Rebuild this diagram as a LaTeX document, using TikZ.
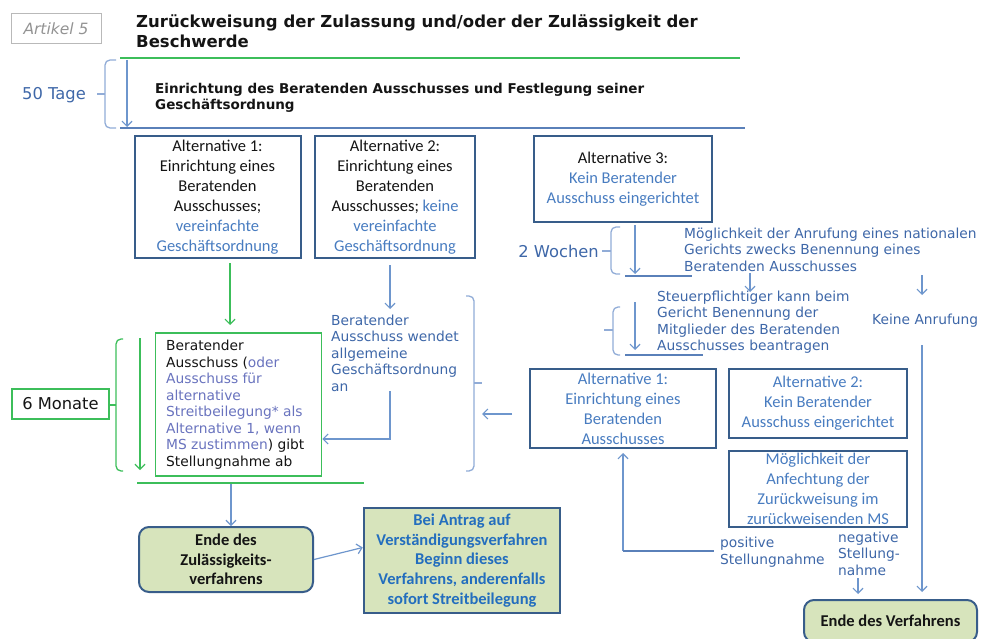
\documentclass[tikz,border=0pt]{standalone}
\usepackage{fontspec}
\setmainfont{Carlito}
\newfontfamily\dv{DejaVu Sans}
\usetikzlibrary{arrows.meta}
\definecolor{dkblue}{RGB}{56,93,138}
\definecolor{lblue}{RGB}{62,103,168}
\definecolor{boxblue}{RGB}{72,124,192}
\definecolor{pblue}{RGB}{105,115,190}
\definecolor{ablue}{RGB}{110,150,205}
\definecolor{brblue}{RGB}{145,172,215}
\definecolor{lineblue}{RGB}{90,128,185}
\definecolor{grn}{RGB}{60,190,90}
\definecolor{lgreen}{RGB}{215,228,188}
\definecolor{bblue}{RGB}{35,110,190}
\definecolor{blk}{RGB}{20,20,20}
\tikzset{
  altbox/.style={draw=dkblue, line width=2pt, align=center, inner sep=0pt, text=blk,
    font=\fontsize{16.5}{20}\selectfont},
  lbl/.style={align=left, inner sep=0pt, text=lblue, font=\dv\fontsize{13.8}{16.5}\selectfont},
  arr/.style={draw=ablue, line width=1.2pt, -{Straight Barb[length=5pt,width=10pt]}},
  garr/.style={draw=grn, line width=1.2pt, -{Straight Barb[length=5pt,width=10pt]}},
  bbrk/.style={draw=brblue, line width=1.3pt, rounded corners=5pt},
  gbrk/.style={draw=grn, line width=1.3pt, rounded corners=5pt},
  endbox/.style={rounded corners=10pt, draw=dkblue, line width=2pt, fill=lgreen, align=center,
    inner sep=0pt, text=blk, font=\bfseries\fontsize{16.5}{19.5}\selectfont},
}
% bracket: style, bar x, end x, tip x, top y, bottom y, tip y
\newcommand\mybracket[7]{%
  \draw[#1] (#3,#5) -- (#2,#5) -- (#2,#6) -- (#3,#6);
  \draw[#1] (#2,#7) -- (#4,#7);}
\begin{document}
\begin{tikzpicture}[x=1pt,y=-1pt]
\useasboundingbox (0,0) rectangle (982,639);
\clip (0,0) rectangle (982,639);
% header
\node[draw=gray!55, line width=1pt, minimum width=90pt, minimum height=30pt, inner sep=0pt,
  text=gray!85, font=\dv\itshape\fontsize{15.5}{18}\selectfont] (art) at (56,29) {Artikel 5};
\node[anchor=west, inner sep=0pt, align=left, text=blk,
  font=\dv\bfseries\fontsize{16.5}{19.5}\selectfont] (title) at (136,31)
  {Zurückweisung der Zulassung und/oder der Zulässigkeit der\\Beschwerde};
\coordinate (gl1) at (120,58); \coordinate (gl2) at (740,58);
\draw[grn, line width=1.2pt] (gl1) -- (gl2);
\mybracket{bbrk}{105}{116}{97}{60}{128}{94}
\node[inner sep=0pt, text=lblue, font=\dv\fontsize{16.3}{19}\selectfont] (t50) at (54,95) {50 Tage};
\coordinate (d50a) at (127,60); \coordinate (d50b) at (127,127);
\draw[arr] (d50a) -- (d50b);
\node[anchor=west, inner sep=0pt, align=left, text=blk,
  font=\dv\bfseries\fontsize{13.5}{16.5}\selectfont] (head2) at (155,98)
  {Einrichtung des Beratenden Ausschusses und Festlegung seiner\\Geschäftsordnung};
\coordinate (bl1) at (120,128); \coordinate (bl2) at (745,128);
\draw[lineblue, line width=1.2pt] (bl1) -- (bl2);
% alternatives
\node[altbox, minimum width=166pt, minimum height=122pt] (a1) at (217.5,197)
  {Alternative 1:\\Einrichtung eines\\Beratenden\\Ausschusses;\\\textcolor{boxblue}{vereinfachte}\\\textcolor{boxblue}{Geschäftsordnung}};
\node[altbox, minimum width=160pt, minimum height=122pt] (a2) at (395,197)
  {Alternative 2:\\Einrichtung eines\\Beratenden\\Ausschusses; \textcolor{boxblue}{keine}\\\textcolor{boxblue}{vereinfachte}\\\textcolor{boxblue}{Geschäftsordnung}};
\node[altbox, minimum width=178pt, minimum height=86pt] (a3) at (623,179)
  {Alternative 3:\\\textcolor{boxblue}{Kein Beratender}\\\textcolor{boxblue}{Ausschuss eingerichtet}};
% left branch
\coordinate (ga1) at (230,263); \coordinate (ga2) at (230,325);
\draw[garr] (ga1) -- (ga2);
\coordinate (ba1) at (390,265); \coordinate (ba2) at (390,309);
\draw[arr] (ba1) -- (ba2);
\node[lbl, anchor=west] (lab1) at (331,353)
  {Beratender\\Ausschuss wendet\\allgemeine\\Geschäftsordnung\\an};
\node[draw=grn, line width=1.5pt, minimum width=166pt, minimum height=143pt, inner sep=0pt] (gbox) at (238.5,404.5) {};
\node[anchor=west, align=left, inner sep=0pt, text=blk, font=\dv\fontsize{13.8}{16.5}\selectfont] (gtext) at (166,404.5)
  {Beratender\\Ausschuss (\textcolor{pblue}{oder}\\\textcolor{pblue}{Ausschuss für}\\\textcolor{pblue}{alternative}\\\textcolor{pblue}{Streitbeilegung* als}\\\textcolor{pblue}{Alternative 1, wenn}\\\textcolor{pblue}{MS zustimmen}) gibt\\Stellungnahme ab};
\coordinate (lb1) at (390,391);
\draw[arr] (lb1) -- (390,439) -- (gbox.east |- 0,439);
\mybracket{bbrk}{474}{466}{482}{296}{471}{383}
\coordinate (la1) at (512,414); \coordinate (la2) at (482,414);
\draw[arr] (la1) -- (la2);
\mybracket{gbrk}{116}{123}{109}{339}{471}{405}
\node[draw=grn, line width=1.5pt, minimum width=97pt, minimum height=30pt, inner sep=0pt, text=blk,
  font=\dv\fontsize{16.3}{19}\selectfont] (mon) at (60.5,404) {6 Monate};
\coordinate (gm1) at (140,338); \coordinate (gm2) at (140,470);
\draw[garr] (gm1) -- (gm2);
\coordinate (gb1) at (137,483); \coordinate (gb2) at (364,483);
\draw[grn, line width=1.2pt] (gb1) -- (gb2);
\coordinate (ea1) at (231,484);
\node[endbox, minimum width=174pt, minimum height=65pt] (ende1) at (226,559.5)
  {Ende des\\Zulässigkeits-\\verfahrens};
\draw[arr] (ea1) -- (ende1.north -| ea1) ;
\node[draw=dkblue, line width=2.5pt, fill=lgreen, minimum width=196pt, minimum height=105pt, inner sep=0pt,
  align=center, text=bblue, font=\bfseries\fontsize{16.5}{19.7}\selectfont] (bei) at (462,560.5)
  {Bei Antrag auf\\Verständigungsverfahren\\Beginn dieses\\Verfahrens, anderenfalls\\sofort Streitbeilegung};
\draw[arr] (ende1.east) -- ([yshift=13pt]bei.west);
% right branch
\node[inner sep=0pt, text=lblue, font=\dv\fontsize{16.3}{19}\selectfont] (w2) at (558.5,251) {2 Wochen};
\mybracket{bbrk}{611}{620}{602}{227}{274}{251}
\coordinate (wa1) at (635,225); \coordinate (wa2) at (635,274);
\draw[arr] (wa1) -- (wa2);
\coordinate (wl1) at (625,276); \coordinate (wl2) at (692,276);
\draw[lineblue, line width=1.2pt] (wl1) -- (wl2);
\node[lbl, anchor=west] (mog) at (684,249.5)
  {Möglichkeit der Anrufung eines nationalen\\Gerichts zwecks Benennung eines\\Beratenden Ausschusses};
\coordinate (ma1) at (750,273); \coordinate (ma2) at (750,292);
\draw[arr] (ma1) -- (ma2);
\coordinate (ka1) at (922,275); \coordinate (ka2) at (922,295);
\draw[arr] (ka1) -- (ka2);
\node[lbl, anchor=west] (steuer) at (657,322)
  {Steuerpflichtiger kann beim\\Gericht Benennung der\\Mitglieder des Beratenden\\Ausschusses beantragen};
\mybracket{bbrk}{613}{620}{604}{307}{355}{330}
\coordinate (sa1) at (635,302); \coordinate (sa2) at (635,350);
\draw[arr] (sa1) -- (sa2);
\coordinate (sl1) at (625,355); \coordinate (sl2) at (703,355);
\draw[lineblue, line width=1.2pt] (sl1) -- (sl2);
\node[lbl, anchor=west] (keine) at (872,321) {Keine Anrufung};
\node[altbox, text=boxblue, minimum width=186pt, minimum height=79pt] (r1) at (623,408.5)
  {Alternative 1:\\Einrichtung eines\\Beratenden\\Ausschusses};
\node[altbox, text=boxblue, minimum width=178pt, minimum height=69pt] (r2) at (818,403.5)
  {Alternative 2:\\Kein Beratender\\Ausschuss eingerichtet};
\node[altbox, text=boxblue, minimum width=178pt, minimum height=76pt] (r3) at (818,489)
  {Möglichkeit der\\Anfechtung der\\Zurückweisung im\\zurückweisenden MS};
\coordinate (pc) at (623,551); \coordinate (pe) at (714,551);
\draw[arr, shorten >=4pt] (pc) -- (r1.south);
\draw[lineblue, line width=1.2pt] (pc) -- (pe);
\node[lbl, anchor=west] (pos) at (720,552) {positive\\Stellungnahme};
\node[lbl, anchor=west] (neg) at (838,553.5) {negative\\Stellung-\\nahme};
\node[endbox, minimum width=173pt, minimum height=42pt] (ende2) at (890.5,621) {Ende des Verfahrens};
\coordinate (na1) at (858,578);
\draw[arr, shorten >=5pt] (na1) -- (ende2.north -| na1);
\coordinate (kl1) at (922,345);
\draw[arr, shorten >=7pt] (kl1) -- (ende2.north -| kl1);
\end{tikzpicture}
\end{document}
